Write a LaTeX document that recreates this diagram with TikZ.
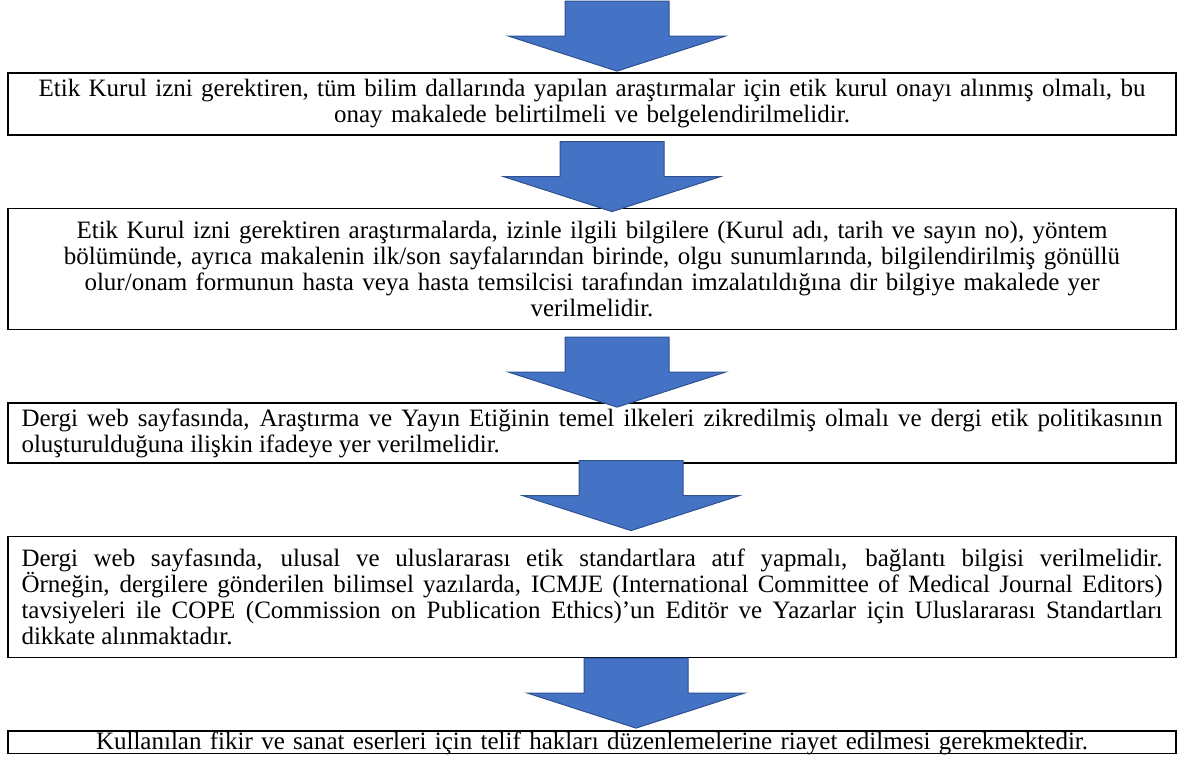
\documentclass[tikz,border=0pt]{standalone}
\usepackage{fontspec}
\setmainfont{Liberation Serif}
\usetikzlibrary{positioning}
\definecolor{okblue}{HTML}{4472C4}
\definecolor{okedge}{HTML}{2F528F}
\hyphenpenalty=10000
\exhyphenpenalty=10000
\tolerance=10000
\tikzset{
  fatarrow/.pic={\draw[okedge, line width=1pt, fill=okblue] (0,0) -- (-108.5,-35) -- (-52,-35) -- (-52,-70) -- (52,-70) -- (52,-35) -- (108.5,-35) -- cycle;}
}
\begin{document}
\begin{tikzpicture}[x=1pt, y=-1pt, node distance={71.7pt}, kutu/.style = {draw, line width=1.8pt, inner xsep=13.5pt, inner ysep=0pt, text width=1141pt, font=\fontsize{25}{26}\selectfont}]
        \useasboundingbox (0,0) rectangle (1185,764);
        \node[kutu, align=center, minimum height=62pt] (1) at (592,104) {Etik Kurul izni gerektiren, tüm bilim dallarında yapılan araştırmalar için etik kurul onayı alınmış olmalı, bu\\ onay makalede belirtilmeli ve belgelendirilmelidir.};
        \node[kutu, align=center, minimum height=121pt] (2) [below=of 1] {Etik Kurul izni gerektiren araştırmalarda, izinle ilgili bilgilere (Kurul adı, tarih ve sayın no), yöntem\\ bölümünde, ayrıca makalenin ilk/son sayfalarından birinde, olgu sunumlarında, bilgilendirilmiş gönüllü\\ olur/onam formunun hasta veya hasta temsilcisi tarafından imzalatıldığına dir bilgiye makalede yer\\ verilmelidir.};
        \node[kutu, align=justify, minimum height=60pt] (3) [below=of 2] {Dergi web sayfasında, Araştırma ve Yayın Etiğinin temel ilkeleri zikredilmiş olmalı ve dergi etik politikasının\linebreak oluşturulduğuna ilişkin ifadeye yer verilmelidir.};
        \node[kutu, align=justify, minimum height=121pt] (4) [below=of 3] {Dergi web sayfasında, ulusal ve uluslararası etik standartlara atıf yapmalı, bağlantı bilgisi verilmelidir.\linebreak Örneğin, dergilere gönderilen bilimsel yazılarda, ICMJE (International Committee of Medical Journal Editors)\linebreak tavsiyeleri ile COPE (Commission on Publication Ethics)’un Editör ve Yazarlar için Uluslararası Standartları\linebreak dikkate alınmaktadır.};
        \node[kutu, align=center, text height=18pt, text depth=4.5pt] (5) [below=of 4] {Kullanılan fikir ve sanat eserleri için telif hakları düzenlemelerine riayet edilmesi gerekmektedir.};
        \pic at ([xshift=25pt,yshift=1pt]1.north) {fatarrow};
        \pic at ([xshift=20pt,yshift=-4pt]2.north) {fatarrow};
        \pic at ([xshift=25pt,yshift=-5pt]3.north) {fatarrow};
        \pic at ([xshift=39pt,yshift=5pt]4.north) {fatarrow};
        \pic at ([xshift=44pt,yshift=2pt]5.north) {fatarrow};
    \end{tikzpicture}
\end{document}
